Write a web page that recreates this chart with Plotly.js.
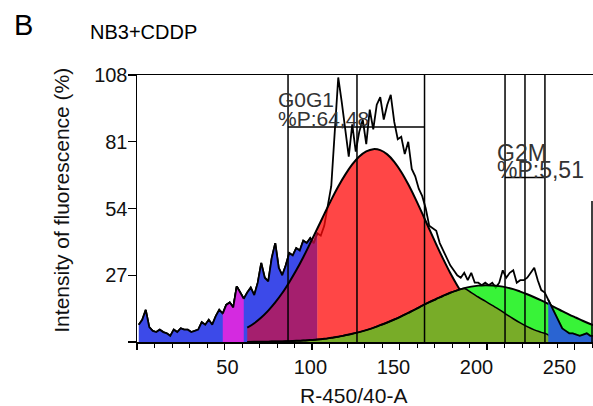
<!DOCTYPE html>
<html><head><meta charset="utf-8">
<script src="https://cdn.plot.ly/plotly-3.0.1.min.js"></script>
<style>html,body{margin:0;padding:0;background:#fff}#chart{width:593px;height:406px}</style>
</head><body><div id="chart"></div>
<script>
// Histogram (channel, % intensity)
const histX = [1,3,5,7,9,11,13,15,17,19,21,23,25,27,29,31,33,35,37,39,41,43,45,47,49,51,53,55,57,59,61,63,65,67,69,71,73,75,77,79,81,83,85,87,89,91,93,95,97,99,101,103,105,107,109,111,113,115,117,119,121,123,125,127,129,131,133,135,137,139,141,143,145,147,149,151,153,155,157,159,161,163,165,167,169,171,173,175,177,179,181,183,185,187,189,191,193,195,197,199,201,203,205,207,209,211,213,215,217,219,221,223,225,227,229,231,233,235,237,239,241,243,245,247,249,251,253,255,257,259,261];
const histY = [7,9,13,6,4.5,4,5,4,3.5,2.5,
  5,4,5.5,5,5,4,4.5,5,8,7,
  9,7,10.5,13,11.5,15,16,14,22.5,20,
  17.5,20,22,19,24,32,26,24.5,34,40,
  30,27,31,36,35,38,37,41,40,42,
  40,44,43,47,55,63,85,107,97,85,
  75,88,77,85,90,80,94,86,96,99,
  90,96,100,89,82,83,76,81,70,67,
  62,59,54,47,46,45,40,37,34,31,
  29,27,26,28,25,28,24,24,23,24,
  23,24,22,24,29,26,28,29,24,25,
  25,26,28,30,25,21,20,17,14,11,
  8,5.5,4.5,3.5,3.5,3,2.5,3,3.5,2.5,
  2.5];

// Fitted model curves
const modelX = [63,67,71,75,79,83,87,91,95,99,103,107,111,115,119,123,127,131,135,139,143,147,151,155,159,163,167,171,175,179,183,187,191,195,199,203,207,211,215,219,223,227,231,235,239,243,247,251,255,259,263];
const g0g1Model = [5.8,7.6,9.9,12.7,16.0,19.8,24.2,29.0,34.3,40.0,45.8,51.7,57.5,62.9,67.7,71.8,75.0,77.1,78.0,77.6,75.9,72.9,68.8,63.8,58.1,52.0,45.7,39.5,33.5,27.9,22.9,18.4,14.5,11.3,8.6,6.4,4.7,3.4,2.4,1.7,1.2,0.8,0.5,0.3,0.2,0.1,0.1,0.1,0.1,0.1,0.1];
const g2mModel = [0.05,0.07,0.1,0.14,0.19,0.25,0.35,0.46,0.6,0.8,1.0,1.3,1.7,2.1,2.7,3.3,4.0,4.8,5.7,6.8,7.9,9.1,10.4,11.8,13.2,14.7,16.1,17.4,18.7,19.9,20.9,21.8,22.4,22.8,23.0,22.9,22.6,22.1,21.4,20.4,19.3,18.1,16.8,15.4,13.9,12.5,11.1,9.8,8.5,7.3,6.2];
const g2mInner = [0.05,0.07,0.1,0.14,0.19,0.25,0.35,0.46,0.6,0.8,1.0,1.3,1.7,2.1,2.7,3.3,4.0,4.8,5.7,6.8,7.9,9.1,10.4,11.8,13.2,14.7,16.1,17.4,18.7,19.9,20.9,21.6,20.0,18.2,16.5,14.8,13.1,11.2,9.4,7.7,6.2,4.9,3.9,2.9,0,0,0,0,0,0,0];

// Region limits (channel)
const debrisLeft = [1, 103];
const magentaBand = [49, 61];
const maroonBand = [63, 103];
const g0g1Band = [103, 187];
const debrisRight = [235, 261];

// Gates
const gateX = [86.3, 125.7, 164.3, 210.3, 221.7, 233.1, 260];
const gateTop = [108, 108, 108, 108, 108, 108, 57];
const barX0 = [86.3, 210.3];
const barX1 = [164.3, 233.1];
const barY = [87, 66.5];
const gateNames = ['G0G1', 'G2M'];
const gatePct = ['%P:64,48', '%P:5,51'];
const gateLabelX = [80, 205.1];
const gateNameY = [98.1, 76.5];
const gatePctY = [90.6, 69.4];
const gateFont = [21, 23];

// Axes
const yTickVals = [0, 27, 54, 81, 108];
const yTickText = ['', '27', '54', '81', '108'];
const xTickVals = [0, 50, 100, 150, 200, 250];
const xLabelVals = [50, 100, 150, 200, 250];
const xLabelText = ['50', '100', '150', '200', '250'];

function pick(xs, ys, band) {
  const ox = [], oy = [];
  xs.forEach((x, i) => { if (x >= band[0] && x <= band[1]) { ox.push(x); oy.push(ys[i]); } });
  return {x: ox, y: oy};
}

const blk = '#000';
const HW = 1.8;
const traces = [];
traces.push({x: histX, y: histY, mode: 'lines', line: {color: blk, width: HW}});
let r = pick(histX, histY, debrisLeft);
traces.push({x: r.x, y: r.y, mode: 'lines', fill: 'tozeroy', fillcolor: '#3c4ae9', line: {color: blk, width: HW}});
r = pick(histX, histY, magentaBand);
traces.push({x: r.x, y: r.y, mode: 'lines', fill: 'tozeroy', fillcolor: '#d42ae0', line: {color: blk, width: HW}});
r = pick(modelX, g0g1Model, maroonBand);
traces.push({x: r.x, y: r.y, mode: 'lines', fill: 'tozeroy', fillcolor: 'rgba(200,18,68,0.75)', line: {width: 0, shape: 'spline'}});
r = pick(modelX, g0g1Model, g0g1Band);
traces.push({x: r.x, y: r.y, mode: 'lines', fill: 'tozeroy', fillcolor: 'rgba(255,8,8,0.75)', line: {width: 0, shape: 'spline'}});
r = pick(modelX, g0g1Model, [63, 191]);
traces.push({x: r.x, y: r.y, mode: 'lines', line: {color: blk, width: 2, shape: 'spline'}});
traces.push({x: modelX, y: g2mInner, mode: 'lines', fill: 'tozeroy', fillcolor: '#78ac28', line: {color: blk, width: 1.5, shape: 'spline'}});
traces.push({x: modelX, y: g2mModel, mode: 'lines', fill: 'tonexty', fillcolor: 'rgba(0,240,0,0.78)', line: {color: blk, width: 2, shape: 'spline'}});
r = pick(histX, histY, debrisRight);
traces.push({x: r.x, y: r.y, mode: 'lines', fill: 'tozeroy', fillcolor: '#2a64d2', line: {color: blk, width: HW}});
traces.push({x: xLabelVals, y: xLabelVals.map(() => 0), xaxis: 'x2', mode: 'markers', marker: {opacity: 0}, hoverinfo: 'skip'});

const shapes = [];
gateX.forEach((gx, i) => shapes.push({type: 'line', xref: 'x', yref: 'y', x0: gx, x1: gx, y0: 0, y1: gateTop[i], line: {color: blk, width: 1.5}}));
barY.forEach((by, i) => shapes.push({type: 'line', xref: 'x', yref: 'y', x0: barX0[i], x1: barX1[i], y0: by, y1: by, line: {color: blk, width: 1.5}}));

const FONT = 'Liberation Sans, Arial, Helvetica, sans-serif';
const annotations = [];
gateNames.forEach((n, i) => {
  annotations.push({xref: 'x', yref: 'y', x: gateLabelX[i], y: gateNameY[i], text: n, showarrow: false, xanchor: 'left', yanchor: 'middle', borderpad: 0, font: {family: FONT, size: gateFont[i], color: '#333'}});
  annotations.push({xref: 'x', yref: 'y', x: gateLabelX[i], y: gatePctY[i], text: gatePct[i], showarrow: false, xanchor: 'left', yanchor: 'middle', borderpad: 0, font: {family: FONT, size: gateFont[i], color: '#333'}});
});
annotations.push({xref: 'paper', yref: 'paper', x: -0.274, y: 1.187, text: 'B', showarrow: false, xanchor: 'left', yanchor: 'middle', font: {family: FONT, size: 29, color: '#000'}});
annotations.push({xref: 'paper', yref: 'paper', x: -0.1075, y: 1.161, text: 'NB3+CDDP', showarrow: false, xanchor: 'left', yanchor: 'middle', font: {family: FONT, size: 20, color: '#000'}});
annotations.push({xref: 'paper', yref: 'paper', x: -0.165, y: 0.532, text: 'Intensity of fluorescence (%)', textangle: -90, showarrow: false, xanchor: 'center', yanchor: 'middle', font: {family: FONT, size: 21, color: '#111'}});
annotations.push({xref: 'paper', yref: 'paper', x: (353.5 - 137) / 456, y: (342 - 395) / 267, text: 'R-450/40-A', showarrow: false, xanchor: 'center', yanchor: 'middle', font: {family: FONT, size: 21, color: '#111'}});

const layout = {
  width: 593, height: 406,
  margin: {l: 137, r: 0, t: 75, b: 64, pad: 0},
  paper_bgcolor: '#fff', plot_bgcolor: '#fff', showlegend: false,
  font: {family: FONT, color: '#111', size: 20},
  xaxis: {range: [0, 260.57], showline: true, linecolor: blk, linewidth: 1.5, mirror: true,
    tickmode: 'array', tickvals: xTickVals, ticks: 'outside', ticklen: 6, tickwidth: 1.3, tickcolor: blk,
    showticklabels: false, showgrid: false, zeroline: false,
    minor: {tickmode: 'linear', tick0: 0, dtick: 10, ticks: 'outside', ticklen: 4, tickwidth: 1, tickcolor: blk}},
  xaxis2: {overlaying: 'x', anchor: 'y', side: 'bottom', range: [-4.46, 270.2],
    tickmode: 'array', tickvals: xLabelVals, ticktext: xLabelText, ticks: '', showline: false,
    ticklabelstandoff: 11,
    showgrid: false, zeroline: false, tickfont: {family: FONT, size: 20, color: '#111'}},
  yaxis: {range: [0, 108], showline: true, linecolor: blk, linewidth: 1.5,
    tickmode: 'array', tickvals: yTickVals, ticktext: yTickText, ticks: 'outside', ticklen: 8, tickwidth: 1.3, tickcolor: blk,
    ticklabelstandoff: -4,
    showgrid: false, zeroline: false, tickfont: {family: FONT, size: 20, color: '#111'}},
  shapes: shapes,
  annotations: annotations
};

Plotly.newPlot('chart', traces, layout, {staticPlot: true, displayModeBar: false});
</script>
</body></html>
